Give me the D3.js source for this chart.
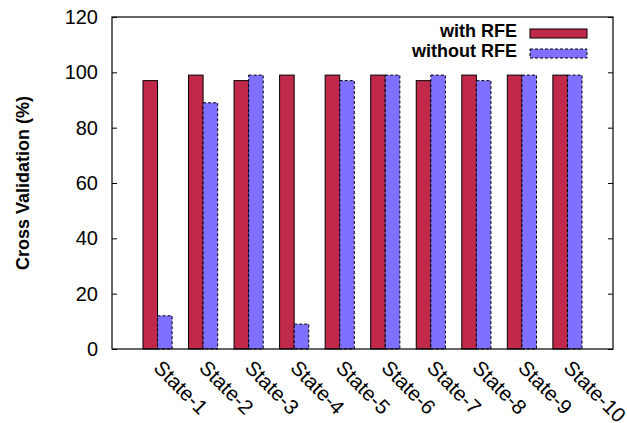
<!DOCTYPE html>
<html>
<head>
<meta charset="utf-8">
<script src="https://cdn.jsdelivr.net/npm/d3@7"></script>
<style>
  body { margin: 0; background: #fff; }
  text { font-family: "Liberation Sans", Arial, sans-serif; }
</style>
</head>
<body>
<div id="chart"></div>
<script>
// data
var states = ["State-1", "State-2", "State-3", "State-4", "State-5",
              "State-6", "State-7", "State-8", "State-9", "State-10"];
var withRFE = [97, 99, 97, 99, 99, 99, 97, 99, 99, 99];
var withoutRFE = [12, 89, 99, 9, 97, 99, 99, 97, 99, 99];
var yTicks = [0, 20, 40, 60, 80, 100, 120];

var series = [
  { name: "with RFE", values: withRFE, color: "#c1294a", dash: null },
  { name: "without RFE", values: withoutRFE, color: "#8070ff", dash: "3,2" }
];

// Set up the chart dimensions
var margin = { top: 17, right: 14, bottom: 74, left: 112 };
var width = 627 - margin.left - margin.right;
var height = 423 - margin.top - margin.bottom;

var svg = d3.select("#chart")
  .append("svg")
  .attr("width", 627)
  .attr("height", 423)
  .append("g")
  .attr("transform", "translate(" + margin.left + "," + margin.top + ")");

// scales: categories sit at 0..9, axis spans -1..10
var xScale = d3.scaleLinear().domain([-1, states.length]).range([0, width]);
var yScale = d3.scaleLinear().domain([0, 120]).range([height, 0]);
var barW = 0.32;

// Draw the bars
series.forEach(function (s, si) {
  svg.selectAll(".bar" + si)
    .data(s.values)
    .enter()
    .append("rect")
    .attr("class", "bar" + si)
    .attr("x", function (d, i) { return xScale(i + (si - 1) * barW); })
    .attr("width", xScale(barW) - xScale(0))
    .attr("y", function (d) { return yScale(d); })
    .attr("height", function (d) { return height - yScale(d); })
    .attr("fill", s.color)
    .attr("stroke", "#000")
    .attr("stroke-width", 1)
    .attr("stroke-dasharray", s.dash);
});

// y axis with inward ticks, mirrored on the right
var yAxis = d3.axisLeft(yScale).tickValues(yTicks).tickSize(-5).tickPadding(14);
svg.append("g")
  .attr("class", "y axis")
  .call(yAxis)
  .call(function (g) {
    g.select(".domain").remove();
    g.selectAll("text").attr("font-size", 20).attr("fill", "#000")
      .style("font-family", "Liberation Sans, Arial, sans-serif");
  });

svg.append("g")
  .attr("transform", "translate(" + width + ",0)")
  .call(d3.axisRight(yScale).tickValues(yTicks).tickSize(-5).tickFormat(""))
  .call(function (g) { g.select(".domain").remove(); });

// border
svg.append("rect")
  .attr("width", width)
  .attr("height", height)
  .attr("fill", "none")
  .attr("stroke", "#000")
  .attr("stroke-width", 1.2);

// x labels, rotated (the last one runs off the right edge, as in the original)
svg.selectAll(".xlabel")
  .data(states)
  .enter()
  .append("text")
  .attr("class", "xlabel")
  .attr("font-size", 20.5)
  .attr("transform", function (d, i) {
    return "translate(" + (xScale(i) - 5) + "," + (height + 20) + ") rotate(45)";
  })
  .text(function (d) { return d; });

// Y axis label
svg.append("text")
  .attr("transform", "rotate(-90)")
  .attr("x", -(183 - margin.top))
  .attr("y", 29 - margin.left)
  .attr("text-anchor", "middle")
  .attr("font-size", 18)
  .attr("font-weight", "bold")
  .text("Cross Validation (%)");

// Legend
var legend = svg.selectAll(".legend")
  .data(series)
  .enter()
  .append("g")
  .attr("class", "legend")
  .attr("transform", function (d, i) { return "translate(0," + (i * 20) + ")"; });

legend.append("text")
  .attr("x", 517 - margin.left)
  .attr("y", 37 - margin.top)
  .attr("text-anchor", "end")
  .attr("font-size", 18)
  .attr("font-weight", "bold")
  .text(function (d) { return d.name; });

legend.append("rect")
  .attr("x", 530 - margin.left)
  .attr("y", 29 - margin.top)
  .attr("width", 57)
  .attr("height", 9)
  .attr("fill", function (d) { return d.color; })
  .attr("stroke", "#000")
  .attr("stroke-dasharray", function (d) { return d.dash; });
</script>
</body>
</html>
